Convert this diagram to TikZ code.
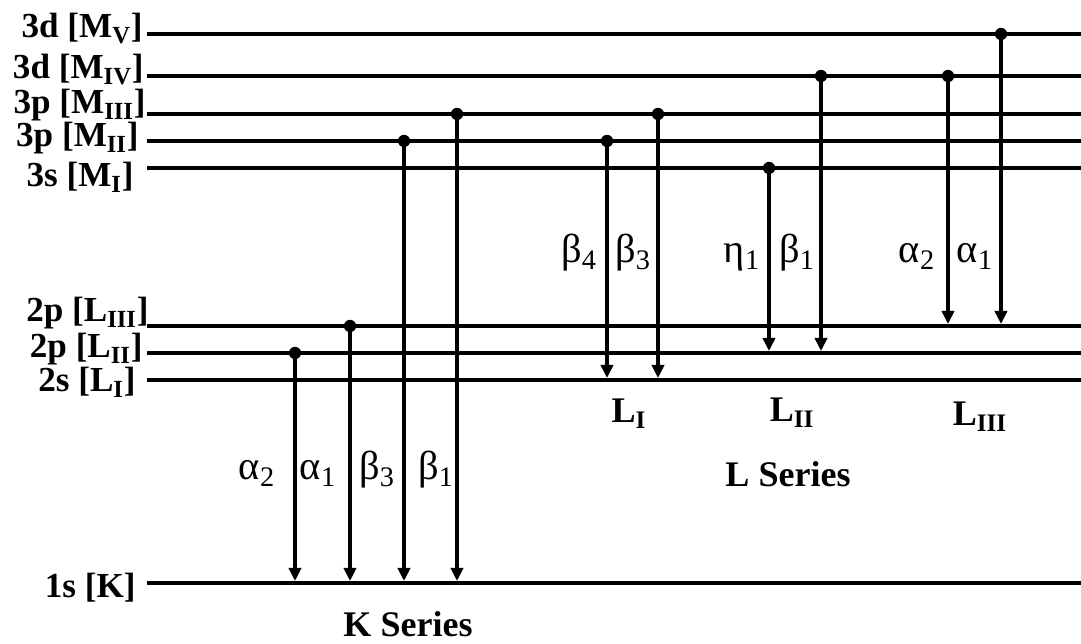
\documentclass[tikz,border=0pt]{standalone}
\usepackage{fontspec}
\setmainfont{Liberation Serif}
\usetikzlibrary{arrows.meta}
\begin{document}
\begin{tikzpicture}[x=0.02cm,y=-0.02cm,
  level/.style={line width=2pt},
  trans/.style={line width=2pt,-{Triangle[width=7pt,length=7.5pt]}},
  dotst/.style={fill=black,circle,inner sep=0pt,minimum size=7pt},
  lvllab/.style={anchor=base east,inner sep=0pt,font=\fontsize{20}{24}\selectfont\bfseries},
  greek/.style={anchor=base,inner sep=0pt,font=\fontsize{23}{26}\selectfont},
  serlab/.style={anchor=base,inner sep=0pt,font=\fontsize{20.5}{24}\selectfont\bfseries}]
\useasboundingbox (0,0) rectangle (1081,644);
% levels
\foreach \n/\y in {MV/34,MIV/76,MIII/114,MII/141,MI/168,LIII/326,LII/353,LI/380,K/583}{
  \coordinate (\n-l) at (147,\y);
  \coordinate (\n-r) at (1081,\y);
  \draw[level] (\n-l) -- (\n-r);
}
% level labels
\node[lvllab] (tMV)   at (143,38)  {3d [M\textsubscript{V}]};
\node[lvllab] (tMIV)  at (144,79)  {3d [M\textsubscript{IV}]};
\node[lvllab] (tMIII) at (146,114) {3p [M\textsubscript{III}]};
\node[lvllab] (tMII)  at (139,147) {3p [M\textsubscript{II}]};
\node[lvllab] (tMI)   at (134,187) {3s [M\textsubscript{I}]};
\node[lvllab] (tLIII) at (149,322) {2p [L\textsubscript{III}]};
\node[lvllab] (tLII)  at (143,358) {2p [L\textsubscript{II}]};
\node[lvllab] (tLI)   at (136,392) {2s [L\textsubscript{I}]};
\node[lvllab] (tK)    at (136,597) {1s [K]};
% transitions: name/x/start y/end y
\foreach \n/\x/\ys/\ye in {ka2/295/353/583, ka1/350/326/583, kb3/404/141/583, kb1/457/114/583,
  lb4/607/141/380, lb3/658/114/380, le1/769/168/353, lb1/821/76/353,
  la2/948/76/326, la1/1001/34/326}{
  \node[dotst] (\n-s) at (\x,\ys) {};
  \coordinate (\n-e) at (\x,\ye-2);
  \draw[trans] (\n-s.center) -- (\n-e);
}
% greek labels
\node[greek] (gka2) at (257,480) {α\textsubscript{2}};
\node[greek] (gka1) at (318,480) {α\textsubscript{1}};
\node[greek] (gkb3) at (377,480) {β\textsubscript{3}};
\node[greek] (gkb1) at (436,480) {β\textsubscript{1}};
\node[greek] (glb4) at (579,263) {β\textsubscript{4}};
\node[greek] (glb3) at (633,263) {β\textsubscript{3}};
\node[greek] (gle1) at (742,263) {η\textsubscript{1}};
\node[greek] (glb1) at (797,263) {β\textsubscript{1}};
\node[greek] (gla2) at (917,263) {α\textsubscript{2}};
\node[greek] (gla1) at (975,263) {α\textsubscript{1}};
% series labels
\node[serlab] (sLI)   at (629,423) {L\textsubscript{I}};
\node[serlab] (sLII)  at (792,422) {L\textsubscript{II}};
\node[serlab] (sLIII) at (980,426) {L\textsubscript{III}};
\node[serlab] (sL)    at (788,487) {L Series};
\node[serlab] (sK)    at (408,636) {K Series};
\end{tikzpicture}
\end{document}
